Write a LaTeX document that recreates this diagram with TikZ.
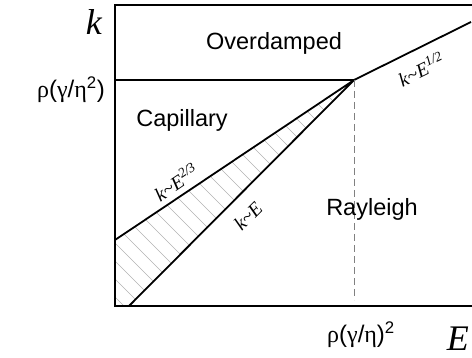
\documentclass[tikz,border=0pt]{standalone}
\usepackage{fontspec}
\setmainfont{Liberation Sans}
\newfontfamily\serifit{Liberation Serif}
\newcommand{\grk}[1]{{\serifit #1}}
\usetikzlibrary{positioning}
\tikzset{
  regionlbl/.style = {font=\fontsize{23.5}{26}\selectfont, inner sep=0pt},
  axislbl/.style   = {font=\fontsize{36}{40}\serifit\itshape, inner sep=0pt},
  scalelbl/.style  = {font=\fontsize{24}{26}\selectfont, inner sep=0pt},
  lawlbl/.style    = {font=\fontsize{19.5}{21}\serifit\itshape, inner sep=0pt},
  bound/.style     = {line width=1.8pt},
  hatchln/.style   = {gray!60, line width=0.4pt},
  threshold/.style = {gray, line width=0.8pt, dash pattern=on 7pt off 4pt}
}

\begin{document}
\begin{tikzpicture}[x=1pt, y=-1pt]
  \useasboundingbox (0,0) rectangle (472,358);

  % corner points of the diagram
  \coordinate (tl) at (115,5);
  \coordinate (tr) at (472,5);
  \coordinate (bl) at (115,306);
  \coordinate (br) at (472,306);
  \coordinate (cross) at (354,80);
  \coordinate (capL) at (115,80);
  \coordinate (sqrtR) at (471,22);
  \coordinate (twothirdL) at (115,240);
  \coordinate (linB) at (129,306);
  \coordinate (dashB) at (354,300);

  % hatched wedge
  \begin{scope}
    \clip (cross) -- (twothirdL) -- (bl) -- (linB) -- cycle;
    \foreach \c in {-200,-182,...,290}
      \draw[hatchln] (\c,0) -- ++(400,400);
  \end{scope}

  \draw[bound] (tr) -- (tl) -- (bl) -- (br);
  \draw[bound] (capL) -- (cross) -- (sqrtR);
  \draw[bound] (twothirdL) -- (cross) -- (linB);
  \draw[threshold] (cross) -- (dashB);

  % axes and scales
  \node[axislbl, anchor=base east] (kaxis) at (102,35) {k};
  \node[axislbl, anchor=base east] (Eaxis) at (469,351) {E};
  \node[scalelbl, anchor=base east] (kscale) at (105,98)
        {\grk{ρ}(\grk{γ}/\grk{η}\textsuperscript{2})};
  \node[scalelbl, anchor=base] (Escale) at (361,343)
        {\grk{ρ}(\grk{γ}/\grk{η})\textsuperscript{2}};

  % regions
  \node[regionlbl, anchor=base] (overdamped) at (274,50) {Overdamped};
  \node[regionlbl, anchor=base] (capillary) at (182,127) {Capillary};
  \node[regionlbl, anchor=base] (rayleigh) at (372,216) {Rayleigh};

  % scaling laws
  \node[lawlbl, rotate=34] (lawtwothird) at (176,182)
        {k\textasciitilde E\textsuperscript{2/3}};
  \node[lawlbl, rotate=45] (lawlin) at (248,216)
        {k\textasciitilde E};
  \node[lawlbl, rotate=26] (lawhalf) at (421,69)
        {k\textasciitilde E\textsuperscript{1/2}};
\end{tikzpicture}
\end{document}
